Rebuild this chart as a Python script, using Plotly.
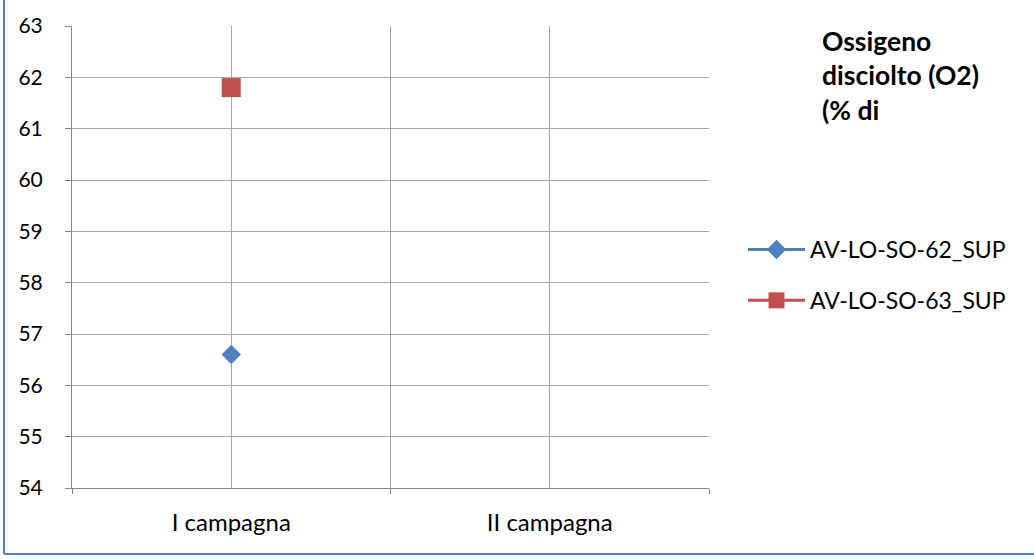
import plotly.graph_objects as go

categories = ["I campagna", "II campagna"]
series_names = ["AV-LO-SO-62_SUP", "AV-LO-SO-63_SUP"]
values_62 = [56.6, None]
values_63 = [61.8, None]
y_ticks = list(range(54, 64))
title_lines = ["Ossigeno", "disciolto (O2)", "(% di"]

FONT = "Lato, Open Sans, sans-serif"
W, H = 1034, 559
L, R, T, B = 72, W - 709, 26, H - 488
pw, ph = W - L - R, H - T - B

xs = list(range(len(categories)))

fig = go.Figure()
fig.add_trace(go.Scatter(
    x=xs, y=values_62, name=series_names[0], mode="lines+markers",
    line=dict(color="#4F81BD", width=3),
    marker=dict(symbol="diamond", size=15, color="#4F81BD"),
    legendgroup="a", connectgaps=False))
fig.add_trace(go.Scatter(
    x=xs, y=values_63, name=series_names[1], mode="lines+markers",
    line=dict(color="#C0504D", width=3),
    marker=dict(symbol="square", size=19, color="#C0504D"),
    legendgroup="b", connectgaps=False))

def px2paperx(p):
    return (p - L) / pw

def px2papery(p):
    return (H - B - p) / ph

shapes = [
    dict(type="line", xref="paper", yref="paper",
         x0=px2paperx(4), x1=px2paperx(4), y0=px2papery(-5), y1=px2papery(554),
         line=dict(color="#4F81BD", width=2)),
    dict(type="line", xref="paper", yref="paper",
         x0=px2paperx(4), x1=px2paperx(1040), y0=px2papery(554), y1=px2papery(554),
         line=dict(color="#4F81BD", width=2)),
]

fig.update_layout(
    width=W, height=H,
    margin=dict(l=L, r=R, t=T, b=B, autoexpand=False),
    paper_bgcolor="white", plot_bgcolor="white",
    font=dict(family=FONT, size=16, color="#000000"),
    showlegend=True,
    legend=dict(x=px2paperx(743), xanchor="left", y=px2papery(228), yanchor="top",
                font=dict(size=23, family=FONT), itemwidth=57, tracegroupgap=18,
                bgcolor="rgba(0,0,0,0)"),
    shapes=shapes,
    annotations=[dict(
        xref="paper", yref="paper", x=px2paperx(820), y=px2papery(23),
        xanchor="left", yanchor="top", align="left", showarrow=False,
        text="<br>".join(title_lines),
        font=dict(family=FONT, size=26.5, color="#000000", weight="bold"))],
)

fig.update_xaxes(
    range=[-0.5, len(categories) - 0.5], tickvals=xs, ticktext=categories,
    ticks="", showgrid=True, gridcolor="#A6A6A6", gridwidth=1,
    showline=True, linecolor="#868686", linewidth=1,
    minor=dict(tick0=-0.5, dtick=1, ticks="outside", ticklen=5, tickcolor="#868686",
               showgrid=True, gridcolor="#A6A6A6", gridwidth=1),
    tickfont=dict(size=24, family=FONT), ticklabelstandoff=13,
    zeroline=False, fixedrange=True)

fig.update_yaxes(
    range=[54, 63], tickvals=y_ticks, ticks="outside", ticklen=6, tickcolor="#868686",
    showgrid=True, gridcolor="#A6A6A6", gridwidth=1,
    showline=True, linecolor="#868686", linewidth=1,
    tickfont=dict(size=21, family=FONT), ticklabelstandoff=18,
    zeroline=False, fixedrange=True)

fig.write_html("out.html", config={"displayModeBar": False},
               post_script="document.body.style.margin='0';")
